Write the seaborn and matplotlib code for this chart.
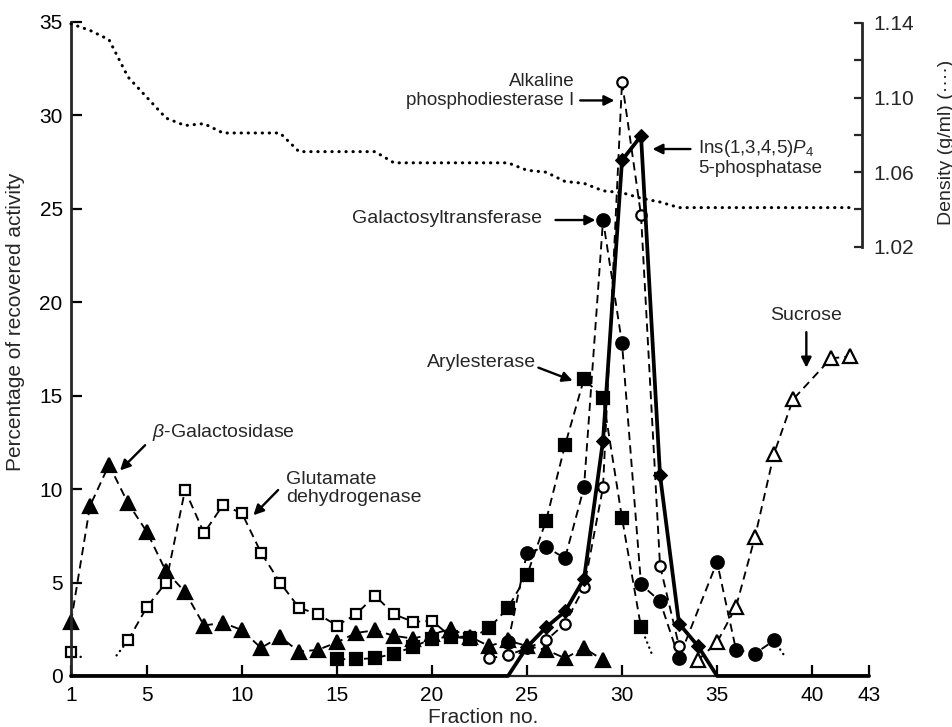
"""
Sucrose density gradient: distribution of marker enzymes and
Ins(1,3,4,5)P4 5-phosphatase across fractions.
"""

import numpy as np
import pandas as pd
import matplotlib
matplotlib.use('Agg')
import matplotlib.pyplot as plt
import seaborn as sns

# ---- data ----
bgal_x = list(range(1, 30))
bgal_y = [2.9, 9.1, 11.3, 9.25, 7.7, 5.6, 4.5, 2.7, 2.85, 2.45, 1.5, 2.1, 1.3, 1.4,
          1.8, 2.3, 2.45, 2.15, 2.0, 2.25, 2.5, 2.1, 1.6, 1.9, 1.6, 1.4, 0.95, 1.5, 0.85]

glu_first_x = [1]
glu_first_y = [1.3]
glu_x = list(range(4, 23))
glu_y = [1.9, 3.7, 5.0, 9.95, 7.65, 9.15, 8.7, 6.6, 5.0, 3.65, 3.3, 2.7, 3.3, 4.3,
         3.3, 2.9, 2.95, 2.1, 2.1]

aryl_x = list(range(15, 32))
aryl_y = [0.9, 0.9, 0.95, 1.2, 1.55, 2.0, 2.1, 2.0, 2.55, 3.65, 5.4, 8.3, 12.35,
          15.9, 14.9, 8.45, 2.6]

galt_x = [24, 25, 26, 27, 28, 29, 30, 31, 32, 33, 35, 36, 37, 38]
galt_y = [1.8, 6.6, 6.9, 6.3, 10.1, 24.4, 17.8, 4.9, 4.0, 0.95, 6.1, 1.4, 1.2, 1.9]

alk_x = list(range(23, 34))
alk_y = [0.95, 1.1, 1.5, 1.9, 2.8, 4.75, 10.1, 31.8, 24.65, 5.9, 1.6]

ins_x = list(range(1, 44))
ins_y = [0.0] * 24 + [1.55, 2.6, 3.45, 5.2, 12.6, 27.6, 28.9, 10.75, 2.8, 1.6] + [0.0] * 9

suc_x = [34, 35, 36, 37, 38, 39, 41, 42]
suc_y = [0.85, 1.8, 3.7, 7.45, 11.9, 14.8, 17.0, 17.1]

dens_x = list(range(1, 43))
dens_y = [1.1395, 1.136, 1.131, 1.111, 1.100, 1.089, 1.085, 1.086, 1.081, 1.081,
          1.081, 1.081, 1.071, 1.071, 1.071, 1.071, 1.071, 1.065, 1.065, 1.065,
          1.065, 1.065, 1.065, 1.065, 1.061, 1.060, 1.055, 1.054, 1.050, 1.049,
          1.046, 1.044, 1.041, 1.041, 1.041, 1.041, 1.041, 1.041, 1.041, 1.041,
          1.041, 1.041]

# short dotted extrapolation tails drawn in the original
tails = {
    'glu_start': ([1, 1.55], [1.3, 1.0]),
    'glu_pre': ([3.4, 4], [1.1, 1.9]),
    'aryl_end': ([31, 31.6], [2.6, 1.1]),
    'galt_end': ([38, 38.6], [1.9, 1.0]),
}

x_ticks = [1, 5, 10, 15, 20, 25, 30, 35, 40, 43]
y_ticks = [0, 5, 10, 15, 20, 25, 30, 35]
dens_ticks = [1.02, 1.06, 1.10, 1.14]
dens_minor = [1.04, 1.08, 1.12]

DASH = (0, (4.4, 2.8))
DOT = (0, (0.1, 2.2))


def draw_series(ax, x, y, marker, filled, ms, ls=DASH, lw=1.35):
    face = 'black' if filled else 'white'
    df = pd.DataFrame({'x': x, 'y': y})
    sns.lineplot(data=df, x='x', y='y', ax=ax, color='black', linestyle=ls,
                 linewidth=lw, marker=marker, markersize=ms,
                 markerfacecolor=face, markeredgecolor='black',
                 markeredgewidth=1.6, clip_on=False)


def main():
    sns.set_style('ticks')
    plt.rcParams['font.family'] = ['Liberation Sans', 'DejaVu Sans']
    plt.rcParams['mathtext.fontset'] = 'custom'
    plt.rcParams['mathtext.rm'] = 'Liberation Sans'
    plt.rcParams['mathtext.it'] = 'Liberation Sans:italic'

    fig = plt.figure(figsize=(9.53, 7.27), dpi=100)
    ax = fig.add_axes([0.0745, 0.0702, 0.8374, 0.8996])
    ax2 = ax.twinx()

    # density on the right-hand axis
    sns.lineplot(x=dens_x, y=dens_y, ax=ax2, color='black', linestyle=DOT,
                 linewidth=2.2, dash_capstyle='round', clip_on=False)

    # enzyme profiles
    for tx, ty in tails.values():
        sns.lineplot(x=tx, y=ty, ax=ax, color='black', linestyle=DOT,
                     linewidth=1.7, dash_capstyle='round', clip_on=False)
    draw_series(ax, bgal_x, bgal_y, '^', True, 10)
    draw_series(ax, glu_x, glu_y, 's', False, 7.5)
    draw_series(ax, glu_first_x, glu_first_y, 's', False, 7.5)
    draw_series(ax, aryl_x, aryl_y, 's', True, 8)
    draw_series(ax, galt_x, galt_y, 'o', True, 9)
    draw_series(ax, alk_x, alk_y, 'o', False, 7.5)
    draw_series(ax, suc_x, suc_y, '^', False, 9.5)

    sns.lineplot(x=ins_x, y=ins_y, ax=ax, color='black', linestyle='-',
                 linewidth=2.7, clip_on=False, zorder=5)
    ins_mx = [f for f, v in zip(ins_x, ins_y) if v > 0]
    ins_my = [v for v in ins_y if v > 0]
    sns.lineplot(x=ins_mx, y=ins_my, ax=ax, color='black', linestyle='none',
                 marker='D', markersize=7.5, markerfacecolor='black',
                 markeredgecolor='black', clip_on=False, zorder=6)

    # main axes styling
    ax.set_xlim(1, 43)
    ax.set_ylim(0, 35)
    ax.set_xticks(x_ticks)
    ax.set_yticks(y_ticks)
    ax.tick_params(direction='in', length=8, width=1.6, labelsize=15, pad=6,
                   colors='black')
    ax.tick_params(axis='x', pad=7)
    for side in ['top', 'right']:
        ax.spines[side].set_visible(False)
    ax.spines['left'].set_linewidth(2.0)
    ax.spines['bottom'].set_linewidth(1.6)
    ax.set_xlabel('Fraction no.', fontsize=15)
    ax.set_ylabel('Percentage of recovered activity', fontsize=15)
    ax.xaxis.set_label_coords(0.516, -0.049)
    ax.yaxis.set_label_coords(-0.058, 0.541)

    # right density axis
    ax2.set_ylim(0.790, 1.1405)
    ax2.set_yticks(dens_ticks)
    ax2.set_yticklabels([f'{t:.2f}' for t in dens_ticks])
    ax2.set_yticks(dens_minor, minor=True)
    ax2.tick_params(axis='y', which='both', direction='in', length=6, width=1.6,
                    labelsize=15, pad=8)
    for side in ['top', 'left', 'bottom']:
        ax2.spines[side].set_visible(False)
    ax2.spines['right'].set_bounds(1.02, 1.14)
    ax2.spines['right'].set_position(('axes', 0.991))
    ax2.spines['right'].set_linewidth(2.0)
    ax2.set_ylabel('Density (g/ml) (\u00b7\u00b7\u00b7\u00b7)', fontsize=14,
                   rotation=90)
    ax2.yaxis.set_label_coords(1.086, 0.8165)

    # labels with arrows
    arrow = dict(arrowstyle='-|>', color='black', lw=1.7, mutation_scale=15,
                 shrinkA=0, shrinkB=0)
    ax.text(27.5, 31.3, 'Alkaline\nphosphodiesterase I', ha='right',
            va='center', fontsize=13.5, multialignment='right', linespacing=1.1)
    ax.annotate('', xy=(29.6, 30.8), xytext=(27.8, 30.8), arrowprops=arrow)

    ax.text(34.0, 27.75, 'Ins(1,3,4,5)$\\mathit{P}_4$\n5-phosphatase', ha='left',
            va='center', fontsize=13.5, linespacing=1.1)
    ax.annotate('', xy=(31.6, 28.2), xytext=(33.6, 28.2), arrowprops=arrow)

    ax.text(25.8, 24.5, 'Galactosyltransferase', ha='right', va='center',
            fontsize=14)
    ax.annotate('', xy=(28.6, 24.4), xytext=(26.5, 24.4), arrowprops=arrow)

    ax.text(25.5, 16.8, 'Arylesterase', ha='right', va='center', fontsize=14)
    ax.annotate('', xy=(27.4, 15.8), xytext=(25.6, 16.5), arrowprops=arrow)

    ax.text(5.25, 13.05, '$\\mathit{\\beta}$-Galactosidase', ha='left',
            va='center', fontsize=14)
    ax.annotate('', xy=(3.58, 11.0), xytext=(4.9, 12.35), arrowprops=arrow)

    ax.text(12.3, 10.05, 'Glutamate\ndehydrogenase', ha='left', va='center',
            fontsize=14, linespacing=1.1)
    ax.annotate('', xy=(10.6, 8.6), xytext=(11.9, 9.95), arrowprops=arrow)

    ax.text(39.7, 19.3, 'Sucrose', ha='center', va='center', fontsize=14)
    ax.annotate('', xy=(39.7, 16.5), xytext=(39.7, 18.4), arrowprops=arrow)

    fig.savefig('out.png', dpi=100)
    plt.close(fig)


if __name__ == '__main__':
    main()
